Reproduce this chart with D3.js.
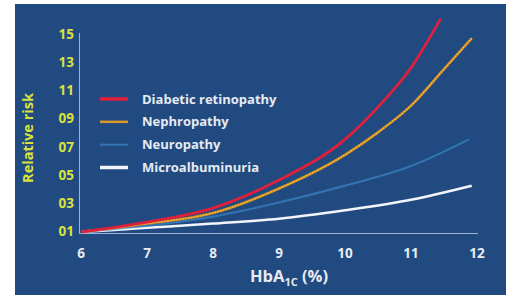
<!DOCTYPE html>
<html>
<head>
<meta charset="utf-8">
<script src="https://cdn.jsdelivr.net/npm/d3@7"></script>
<style>
  html, body { margin: 0; padding: 0; background: #ffffff; }
  svg { display: block; font-family: "Open Sans", Lato, sans-serif; font-weight: bold; }
</style>
</head>
<body>
<div id="chart"></div>
<script>
// values
const xTicks = [6, 7, 8, 9, 10, 11, 12];
const yTicks = [1, 3, 5, 7, 9, 11, 13, 15];

const retinopathyX = [6, 7, 8, 9, 10, 10.5, 11, 11.45];
const retinopathyY = [1, 1.7, 2.7, 4.7, 7.6, 9.9, 12.7, 16.2];

const nephropathyX = [6, 7, 8, 9, 10, 10.5, 11, 11.5, 11.92];
const nephropathyY = [1, 1.6, 2.35, 4.1, 6.5, 8.1, 10.0, 12.6, 14.8];

const neuropathyX = [6, 7, 8, 9, 10, 11, 11.88];
const neuropathyY = [1, 1.45, 2.1, 3.1, 4.3, 5.7, 7.6];

const microX = [6, 7, 8, 9, 10, 11, 11.92];
const microY = [1, 1.3, 1.6, 1.95, 2.55, 3.3, 4.3];

const seriesNames = ["Diabetic retinopathy", "Nephropathy", "Neuropathy", "Microalbuminuria"];

const width = 509, height = 295;

const svg = d3.select("#chart").append("svg")
    .attr("width", width)
    .attr("height", height);

// dark blue slide panel
svg.append("rect")
    .attr("x", 15).attr("y", 4)
    .attr("width", 491).attr("height", 291)
    .attr("fill", "#214a81");

const x = d3.scaleLinear().domain([6, 12]).range([81, 477]);
const y = d3.scaleLinear().domain([1, 15]).range([232, 35.5]);

// axis lines
svg.append("line")
    .attr("x1", 79.5).attr("x2", 79.5)
    .attr("y1", 33).attr("y2", 233.5)
    .attr("stroke", "#9fb3cf").attr("stroke-width", 1);
svg.append("line")
    .attr("x1", 79).attr("x2", 478)
    .attr("y1", 233.5).attr("y2", 233.5)
    .attr("stroke", "#9fb3cf").attr("stroke-width", 1.2);

// tick labels
svg.selectAll("text.ytick")
    .data(yTicks)
    .join("text")
    .attr("class", "ytick")
    .attr("x", 74)
    .attr("y", (d) => y(d) - 1)
    .attr("dy", "0.35em")
    .attr("text-anchor", "end")
    .attr("font-size", 13.5)
    .attr("fill", "#d9e23c")
    .text((d) => d3.format("02d")(d));

svg.selectAll("text.xtick")
    .data(xTicks)
    .join("text")
    .attr("class", "xtick")
    .attr("x", (d) => x(d))
    .attr("y", 253)
    .attr("dy", "0.35em")
    .attr("text-anchor", "middle")
    .attr("font-size", 13.5)
    .attr("fill", "#e6ebf2")
    .text((d) => d);

// axis titles
svg.append("text")
    .attr("transform", "translate(28,138) rotate(-90)")
    .attr("dy", "0.35em")
    .attr("text-anchor", "middle")
    .attr("font-size", 14.5)
    .attr("fill", "#d9e23c")
    .text("Relative risk");

const xTitle = svg.append("text")
    .attr("x", 289).attr("y", 282)
    .attr("text-anchor", "middle")
    .attr("font-size", 16.5)
    .attr("fill", "#e6ebf2");
xTitle.append("tspan").text("HbA");
xTitle.append("tspan").attr("font-size", 11).attr("dy", 4).text("1C");
xTitle.append("tspan").attr("dy", -4).text(" (%)");

// curves
const line = d3.line()
    .x((d) => x(d[0]))
    .y((d) => y(d[1]))
    .curve(d3.curveMonotoneX);

const zipPts = (xs, ys) => xs.map((v, i) => [v, ys[i]]);

svg.append("path")
    .datum(zipPts(microX, microY))
    .attr("fill", "none")
    .attr("stroke", "#f2f5fa")
    .attr("stroke-width", 2.5)
    .attr("d", line);

svg.append("path")
    .datum(zipPts(neuropathyX, neuropathyY))
    .attr("fill", "none")
    .attr("stroke", "#3a84c8")
    .attr("stroke-width", 2.2)
    .attr("stroke-opacity", 0.7)
    .attr("d", line);

svg.append("path")
    .datum(zipPts(nephropathyX, nephropathyY))
    .attr("fill", "none")
    .attr("stroke", "#d48a22")
    .attr("stroke-width", 2.6)
    .attr("d", line);
svg.append("path")
    .datum(zipPts(nephropathyX, nephropathyY))
    .attr("fill", "none")
    .attr("stroke", "#efc83a")
    .attr("stroke-width", 1.4)
    .attr("stroke-dasharray", "1.5,1.5")
    .attr("d", line);

svg.append("path")
    .datum(zipPts(retinopathyX, retinopathyY))
    .attr("fill", "none")
    .attr("stroke", "#e01f3d")
    .attr("stroke-width", 2.8)
    .attr("d", line);

// legend
const legendColors = ["#e01f3d", "#d9982a", "#3a84c8", "#f2f5fa"];
const legendWidths = [3.5, 2.5, 2, 3.5];
const legendY = d3.scalePoint().domain(seriesNames).range([99, 167.5]);

const legend = svg.selectAll("g.legend")
    .data(seriesNames)
    .join("g")
    .attr("class", "legend")
    .attr("transform", (d) => `translate(0,${legendY(d)})`);

legend.append("line")
    .attr("x1", 100).attr("x2", 128)
    .attr("stroke", (_, i) => legendColors[i])
    .attr("stroke-width", (_, i) => legendWidths[i])
    .attr("stroke-opacity", (_, i) => i === 2 ? 0.75 : 1);

legend.append("text")
    .attr("x", 142)
    .attr("dy", "0.35em")
    .attr("font-size", 13)
    .attr("fill", "#e6ebf2")
    .text((d) => d);
</script>
</body>
</html>
